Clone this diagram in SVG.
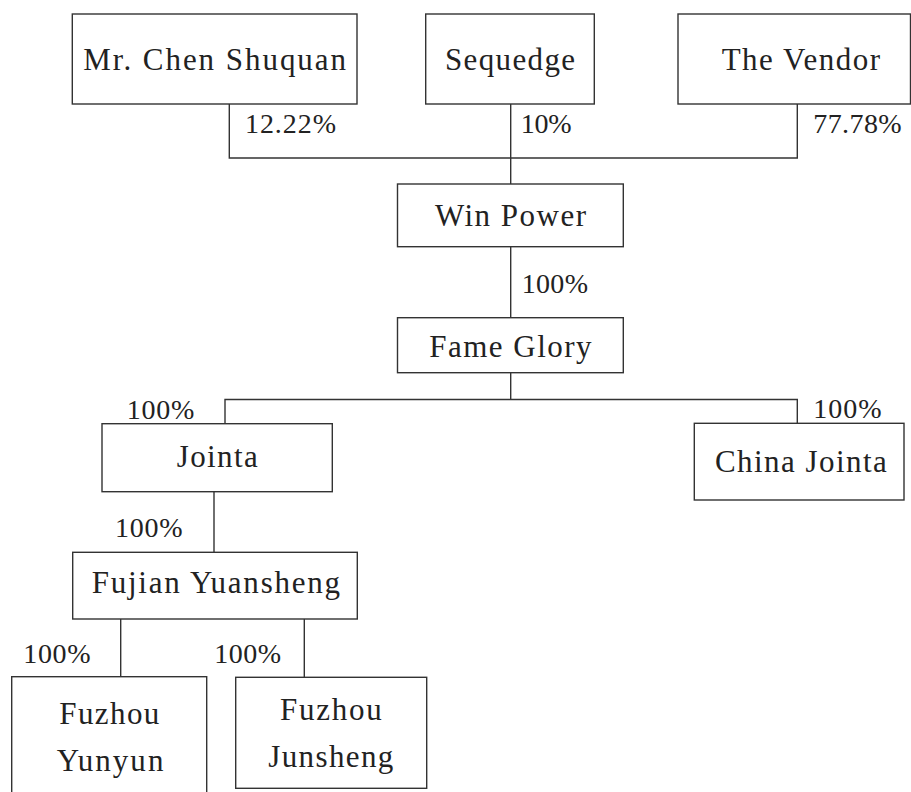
<svg xmlns="http://www.w3.org/2000/svg" width="911" height="792" viewBox="0 0 911 792">
<style>
.box{fill:#fff;stroke:#333;stroke-width:1.4}
.ln{fill:none;stroke:#333;stroke-width:1.4}
.nm{font-family:"Liberation Serif","Times New Roman",serif;font-size:31px;fill:#222}
.pc{font-family:"Liberation Serif","Times New Roman",serif;font-size:28px;fill:#222}
</style>
<rect width="911" height="792" fill="#fff"/>
<g id="connectors">
<path class="ln" d="M229.3,104V158H797.3V104M510.7,104V184"/>
<path class="ln" d="M510.7,246.7V317.7"/>
<path class="ln" d="M510.7,372.7V399.5M225,423.7V399.5H797.3V423.3"/>
<path class="ln" d="M214,491.7V552.3"/>
<path class="ln" d="M120.7,619V676.7M304.3,619V677.3"/>
<text class="pc" x="245" y="133" textLength="91" lengthAdjust="spacing">12.22%</text>
<text class="pc" x="520.7" y="133" textLength="51" lengthAdjust="spacing">10%</text>
<text class="pc" x="813.3" y="133" textLength="88.3" lengthAdjust="spacing">77.78%</text>
<text class="pc" x="521.7" y="293" textLength="66.3" lengthAdjust="spacing">100%</text>
<text class="pc" x="126.7" y="419.3" textLength="67.7" lengthAdjust="spacing">100%</text>
<text class="pc" x="813.3" y="418.3" textLength="68.3" lengthAdjust="spacing">100%</text>
<text class="pc" x="115" y="536.7" textLength="67.7" lengthAdjust="spacing">100%</text>
<text class="pc" x="23.3" y="662.7" textLength="67.3" lengthAdjust="spacing">100%</text>
<text class="pc" x="214.3" y="662.7" textLength="66.7" lengthAdjust="spacing">100%</text>
</g>
<g id="chen"><rect class="box" x="72.3" y="14" width="284.7" height="90"/><text class="nm" x="83.3" y="70" textLength="262.7" lengthAdjust="spacing">Mr. Chen Shuquan</text></g>
<g id="sequedge"><rect class="box" x="425.7" y="14" width="168.6" height="90"/><text class="nm" x="445" y="70" textLength="130" lengthAdjust="spacing">Sequedge</text></g>
<g id="vendor"><rect class="box" x="678" y="14" width="232.5" height="90"/><text class="nm" x="721.7" y="70" textLength="158.3" lengthAdjust="spacing">The Vendor</text></g>
<g id="winpower"><rect class="box" x="397.5" y="184" width="225.8" height="62.7"/><text class="nm" x="435" y="225.7" textLength="151" lengthAdjust="spacing">Win Power</text></g>
<g id="fameglory"><rect class="box" x="397.5" y="317.7" width="225.8" height="55"/><text class="nm" x="429.3" y="356.7" textLength="162.3" lengthAdjust="spacing">Fame Glory</text></g>
<g id="jointa"><rect class="box" x="102" y="423.7" width="230.3" height="68"/><text class="nm" x="176.7" y="467.3" textLength="81" lengthAdjust="spacing">Jointa</text></g>
<g id="chinajointa"><rect class="box" x="694.3" y="423.3" width="209.7" height="76.7"/><text class="nm" x="715" y="471.7" textLength="171.7" lengthAdjust="spacing">China Jointa</text></g>
<g id="fujian"><rect class="box" x="72.7" y="552.3" width="284.6" height="66.7"/><text class="nm" x="91.7" y="593.3" textLength="248.3" lengthAdjust="spacing">Fujian Yuansheng</text></g>
<g id="yunyun"><rect class="box" x="11.7" y="676.7" width="195" height="130"/><text class="nm" x="59.3" y="724" textLength="100" lengthAdjust="spacing">Fuzhou</text><text class="nm" x="56.7" y="770.7" textLength="106.7" lengthAdjust="spacing">Yunyun</text></g>
<g id="junsheng"><rect class="box" x="235.7" y="677.3" width="191" height="111"/><text class="nm" x="280" y="720" textLength="101.7" lengthAdjust="spacing">Fuzhou</text><text class="nm" x="268.3" y="766.7" textLength="125" lengthAdjust="spacing">Junsheng</text></g>
</svg>
